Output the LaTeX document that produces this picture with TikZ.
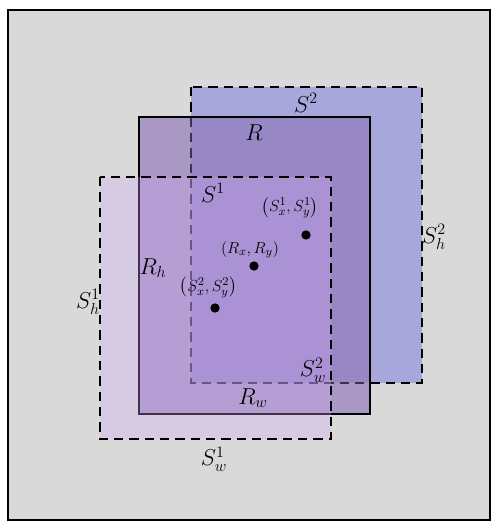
\documentclass[tikz,border=0pt]{standalone}
\usepackage{amsmath,amssymb}
\usepackage{xcolor}
\usepackage{tikz}
\usetikzlibrary{positioning}
\definecolor{frame}{HTML}{D9D9D9}
\definecolor{bluish}{RGB}{135,135,222}
\definecolor{plum}{RGB}{145,118,186}
\definecolor{lilac}{RGB}{213,173,253}

\begin{document}
\begin{tikzpicture}[x=0.75pt,y=-0.75pt,
  sbox/.style={line width=1.5pt,dash pattern=on 7pt off 4.5pt},
  rbox/.style={line width=1.1pt},
  lbl/.style={font=\fontsize{18}{20}\selectfont,inner sep=0pt},
  coordlbl/.style={font=\fontsize{12.5}{14}\selectfont,inner sep=0pt},
  dotnode/.style={circle,fill=black,inner sep=0pt,minimum size=7pt}]
\useasboundingbox (0,0) rectangle (491,523);
\draw[line width=1.5pt,fill=frame] (8,10) rectangle (490,520);
% the three boxes
\draw[sbox,fill=bluish,fill opacity=0.6] (191,87) rectangle (422,383);
\draw[rbox,fill=plum,fill opacity=0.65] (139,117) rectangle (370,414);
\draw[sbox,draw opacity=0.35] (191,87) rectangle (422,383);
\draw[sbox,fill=lilac,fill opacity=0.3] (100,177) rectangle (331,439);
% centres
\node[dotnode] (s1c) at (306,235) {};
\node[dotnode] (rc) at (254,266) {};
\node[dotnode] (s2c) at (215,308) {};
% labels
\node[lbl] (ls2) at (306,103) {$S^2$};
\node[lbl] (lr) at (254,133) {$R$};
\node[lbl] (ls1) at (213,193) {$S^1$};
\node[lbl] (lrh) at (153,268) {$R_h$};
\node[lbl] (ls1h) at (88,302) {$S^1_h$};
\node[lbl] (ls2h) at (434,237) {$S^2_h$};
\node[lbl] (ls2w) at (313,370) {$S^2_w$};
\node[lbl] (lrw) at (253,398) {$R_w$};
\node[lbl] (ls1w) at (214,459) {$S^1_w$};
\node[coordlbl,above=9pt of s1c,xshift=-12pt] (ps1) {$\left(S^1_x,S^1_y\right)$};
\node[coordlbl,above=2pt of rc,xshift=-3pt] (pr) {$\left(R_x,R_y\right)$};
\node[coordlbl,above=4pt of s2c,xshift=-5pt] (ps2) {$\left(S^2_x,S^2_y\right)$};
\end{tikzpicture}
\end{document}
